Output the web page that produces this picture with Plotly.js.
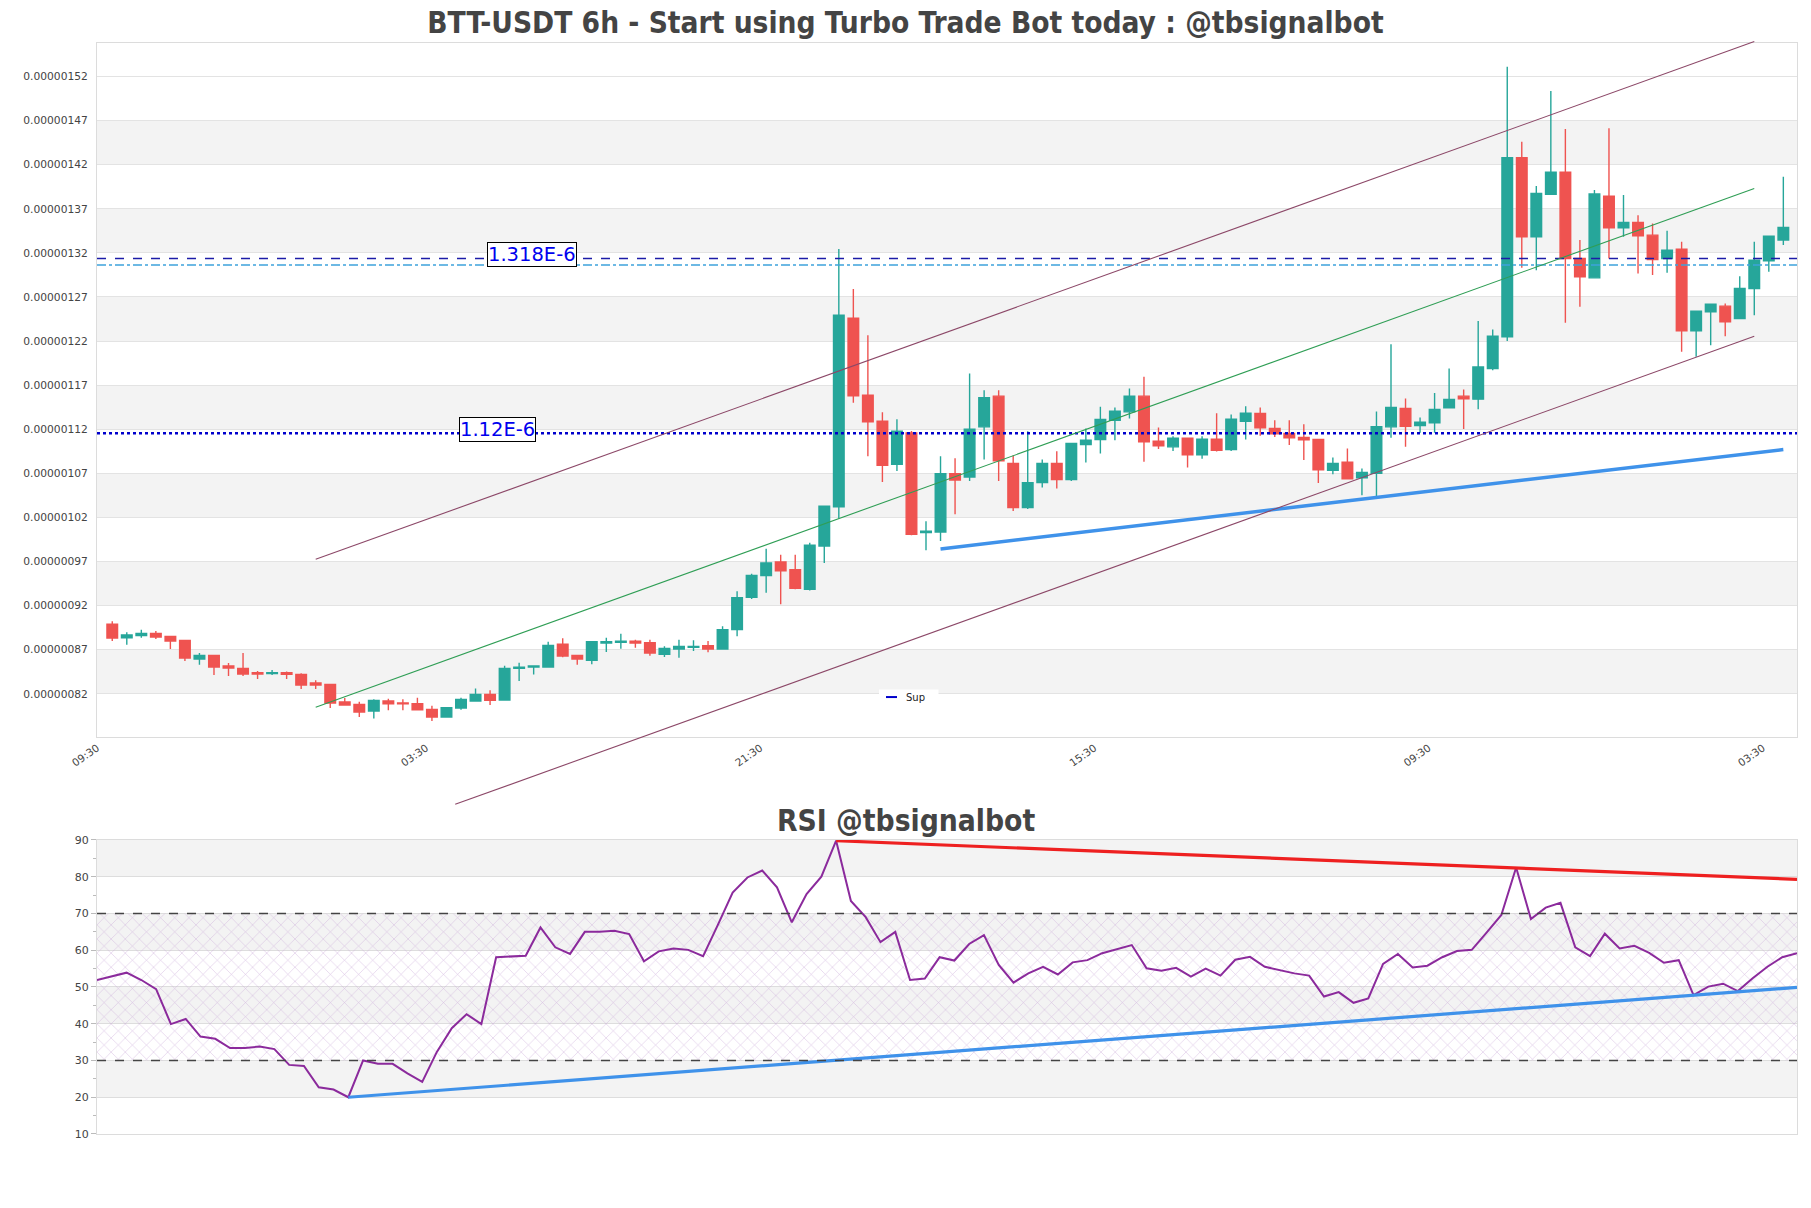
<!DOCTYPE html>
<html><head><meta charset="utf-8">
<script src="https://cdn.plot.ly/plotly-3.0.1.min.js"></script>
<style>body{margin:0;background:#fff}</style>
</head><body>
<div id="chart" style="width:1811px;height:1208px"></div>
<script>
// ---- data ----
const tickIdx = [-1.04, 21.6, 44.6, 67.6, 90.6, 113.6];
const tickText = ["09:30","03:30","21:30","15:30","09:30","03:30"];

const openP = [
0.8988e-6,0.8836e-6,0.8859e-6,0.8885e-6,0.8851e-6,0.8806e-6,0.8594e-6,0.8636e-6,0.8515e-6,0.8488e-6,
0.8439e-6,0.8428e-6,0.8439e-6,0.8420e-6,0.8322e-6,0.8307e-6,0.8106e-6,0.8080e-6,0.8004e-6,0.8118e-6,
0.8095e-6,0.8087e-6,0.8023e-6,0.7936e-6,0.8038e-6,0.8118e-6,0.8193e-6,0.8129e-6,0.8488e-6,0.8504e-6,
0.8504e-6,0.8761e-6,0.8636e-6,0.8579e-6,0.8776e-6,0.8783e-6,0.8795e-6,0.8780e-6,0.8647e-6,0.8708e-6,
0.8727e-6,0.8746e-6,0.8708e-6,0.8927e-6,0.9293e-6,0.9541e-6,0.9695e-6,0.9607e-6,0.9384e-6,0.9876e-6,
1.0319e-6,1.2460e-6,1.1586e-6,1.1291e-6,1.0803e-6,1.1159e-6,1.0028e-6,1.0035e-6,1.0697e-6,1.0659e-6,
1.1227e-6,1.1575e-6,1.0811e-6,1.0311e-6,1.0595e-6,1.0811e-6,1.0629e-6,1.1026e-6,1.1083e-6,1.1302e-6,
1.1397e-6,1.1575e-6,1.1064e-6,1.1000e-6,1.1098e-6,1.0909e-6,1.1087e-6,1.0969e-6,1.1291e-6,1.1378e-6,
1.1208e-6,1.1151e-6,1.1106e-6,1.1083e-6,1.0735e-6,1.0826e-6,1.0648e-6,1.0701e-6,1.1227e-6,1.1435e-6,
1.1242e-6,1.1272e-6,1.1442e-6,1.1575e-6,1.1541e-6,1.1889e-6,1.2248e-6,1.4279e-6,1.3383e-6,1.3863e-6,
1.4116e-6,1.3137e-6,1.2917e-6,1.3844e-6,1.3485e-6,1.3545e-6,1.3401e-6,1.3137e-6,1.3243e-6,1.2316e-6,
1.2532e-6,1.2596e-6,1.2456e-6,1.2796e-6,1.3110e-6,1.3345e-6];
const highP = [
0.9022e-6,0.8897e-6,0.8927e-6,0.8912e-6,0.8851e-6,0.8806e-6,0.8662e-6,0.8636e-6,0.8549e-6,0.8662e-6,
0.8458e-6,0.8469e-6,0.8454e-6,0.8432e-6,0.8352e-6,0.8307e-6,0.8152e-6,0.8110e-6,0.8137e-6,0.8144e-6,
0.8137e-6,0.8155e-6,0.8065e-6,0.8042e-6,0.8155e-6,0.8261e-6,0.8239e-6,0.8518e-6,0.8553e-6,0.8515e-6,
0.8791e-6,0.8829e-6,0.8636e-6,0.8791e-6,0.8836e-6,0.8882e-6,0.8814e-6,0.8814e-6,0.8738e-6,0.8814e-6,
0.8806e-6,0.8798e-6,0.8965e-6,0.9362e-6,0.9560e-6,0.9846e-6,0.9777e-6,0.9777e-6,0.9914e-6,1.0334e-6,
1.3243e-6,1.2789e-6,1.2267e-6,1.1393e-6,1.1314e-6,1.1181e-6,1.0156e-6,1.0894e-6,1.0871e-6,1.1832e-6,
1.1643e-6,1.1643e-6,1.0901e-6,1.1177e-6,1.0856e-6,1.0951e-6,1.1045e-6,1.1208e-6,1.1454e-6,1.1446e-6,
1.1662e-6,1.1794e-6,1.1219e-6,1.1121e-6,1.1098e-6,1.1121e-6,1.1382e-6,1.1367e-6,1.1461e-6,1.1446e-6,
1.1302e-6,1.1302e-6,1.1257e-6,1.1083e-6,1.0879e-6,1.0981e-6,1.0754e-6,1.1401e-6,1.2165e-6,1.1548e-6,
1.1333e-6,1.1612e-6,1.1889e-6,1.1650e-6,1.2426e-6,1.2331e-6,1.5311e-6,1.4460e-6,1.3957e-6,1.5035e-6,
1.4604e-6,1.3345e-6,1.3912e-6,1.4612e-6,1.3855e-6,1.3628e-6,1.3534e-6,1.3451e-6,1.3326e-6,1.2539e-6,
1.2626e-6,1.2626e-6,1.2936e-6,1.3326e-6,1.3390e-6,1.4063e-6];
const lowP = [
0.8798e-6,0.8757e-6,0.8836e-6,0.8821e-6,0.8708e-6,0.8572e-6,0.8530e-6,0.8413e-6,0.8401e-6,0.8401e-6,
0.8367e-6,0.8413e-6,0.8367e-6,0.8254e-6,0.8254e-6,0.8038e-6,0.8065e-6,0.7936e-6,0.7921e-6,0.8012e-6,
0.8012e-6,0.8019e-6,0.7891e-6,0.7936e-6,0.8019e-6,0.8118e-6,0.8072e-6,0.8129e-6,0.8345e-6,0.8420e-6,
0.8504e-6,0.8613e-6,0.8530e-6,0.8534e-6,0.8674e-6,0.8711e-6,0.8723e-6,0.8632e-6,0.8617e-6,0.8609e-6,
0.8685e-6,0.8670e-6,0.8700e-6,0.8851e-6,0.9275e-6,0.9345e-6,0.9214e-6,0.9384e-6,0.9372e-6,0.9683e-6,
1.0187e-6,1.1499e-6,1.0894e-6,1.0603e-6,1.0727e-6,0.9997e-6,0.9827e-6,0.9933e-6,1.0236e-6,1.0614e-6,
1.0856e-6,1.0614e-6,1.0274e-6,1.0296e-6,1.0538e-6,1.0527e-6,1.0614e-6,1.0822e-6,1.0924e-6,1.1075e-6,
1.1321e-6,1.0830e-6,1.0977e-6,1.0954e-6,1.0765e-6,1.0864e-6,1.0947e-6,1.0954e-6,1.1083e-6,1.1125e-6,
1.1113e-6,1.1022e-6,1.0852e-6,1.0591e-6,1.0690e-6,1.0637e-6,1.0451e-6,1.0440e-6,1.1102e-6,1.1000e-6,
1.1159e-6,1.1159e-6,1.1442e-6,1.1204e-6,1.1427e-6,1.1870e-6,1.2202e-6,1.3031e-6,1.3004e-6,1.3863e-6,
1.2407e-6,1.2588e-6,1.2917e-6,1.3137e-6,1.3383e-6,1.2967e-6,1.2948e-6,1.2974e-6,1.2078e-6,1.2021e-6,
1.2153e-6,1.2255e-6,1.2456e-6,1.2494e-6,1.2985e-6,1.3288e-6];
const closeP = [
0.8833e-6,0.8866e-6,0.8885e-6,0.8844e-6,0.8798e-6,0.8606e-6,0.8636e-6,0.8503e-6,0.8492e-6,0.8424e-6,
0.8424e-6,0.8439e-6,0.8420e-6,0.8299e-6,0.8299e-6,0.8095e-6,0.8072e-6,0.7993e-6,0.8125e-6,0.8087e-6,
0.8087e-6,0.8019e-6,0.7936e-6,0.8042e-6,0.8137e-6,0.8193e-6,0.8125e-6,0.8488e-6,0.8500e-6,0.8515e-6,
0.8749e-6,0.8628e-6,0.8594e-6,0.8791e-6,0.8791e-6,0.8795e-6,0.8776e-6,0.8662e-6,0.8715e-6,0.8738e-6,
0.8738e-6,0.8708e-6,0.8927e-6,0.9290e-6,0.9541e-6,0.9684e-6,0.9594e-6,0.9397e-6,0.9884e-6,1.0327e-6,
1.2494e-6,1.1578e-6,1.1283e-6,1.0792e-6,1.1178e-6,1.0009e-6,1.0043e-6,1.0697e-6,1.0625e-6,1.1200e-6,
1.1559e-6,1.0841e-6,1.0311e-6,1.0595e-6,1.0811e-6,1.0629e-6,1.1038e-6,1.1075e-6,1.1310e-6,1.1404e-6,
1.1575e-6,1.1057e-6,1.1011e-6,1.1098e-6,1.0909e-6,1.1087e-6,1.0962e-6,1.1314e-6,1.1382e-6,1.1215e-6,
1.1147e-6,1.1102e-6,1.1079e-6,1.0739e-6,1.0811e-6,1.0637e-6,1.0709e-6,1.1230e-6,1.1446e-6,1.1234e-6,
1.1280e-6,1.1423e-6,1.1537e-6,1.1544e-6,1.1907e-6,1.2255e-6,1.4279e-6,1.3383e-6,1.3874e-6,1.4116e-6,
1.3137e-6,1.2929e-6,1.3867e-6,1.3485e-6,1.3545e-6,1.3394e-6,1.3125e-6,1.3231e-6,1.2316e-6,1.2539e-6,
1.2619e-6,1.2418e-6,1.2796e-6,1.3118e-6,1.3390e-6,1.3488e-6];

const rsi = [
51.9,52.8,53.9,51.9,49.4,39.9,41.3,36.5,35.9,33.4,
33.4,33.8,33.1,28.8,28.5,22.7,22.1,20.0,30.0,29.1,
29.1,26.5,24.2,32.4,38.8,42.6,39.9,58.1,58.3,58.5,
66.2,60.8,59.0,65.0,65.0,65.3,64.4,57.0,59.7,60.5,
60.1,58.4,66.9,75.7,79.8,81.7,77.1,67.6,75.3,80.0,
89.8,73.4,69.0,62.2,65.0,51.9,52.3,58.1,57.2,61.7,
64.1,56.0,51.2,53.7,55.5,53.4,56.7,57.3,59.2,60.2,
61.4,55.1,54.4,55.2,52.8,55.0,53.1,57.4,58.2,55.5,
54.5,53.7,53.1,47.4,48.6,45.7,46.9,56.3,59.0,55.3,
55.8,58.1,59.8,60.1,64.8,69.6,82.5,68.5,71.6,72.9,
60.8,58.4,64.5,60.5,61.2,59.3,56.6,57.3,47.8,50.1,
50.9,48.9,52.4,55.5,58.1,59.2];

// trend / channel lines (candle index, price)
const channelX = [14, 113];
const upperChannelY = [0.9725e-6, 1.5596e-6];
const midChannelY = [0.8047e-6, 1.3931e-6];
const lowerChannelX = [23.6, 113];
const lowerChannelY = [0.6946e-6, 1.2254e-6];
const supTrendX = [57, 115];
const supTrendY = [0.9843e-6, 1.0970e-6];
// horizontal levels
const resistLevel = 1.3137e-6;
const resistLevel2 = 1.3062e-6;
const supLevel = 1.1155e-6;
const levelLabelX = [28.9, 26.5];
const levelLabelY = [1.318e-6, 1.12e-6];
const levelLabelText = ["1.318E-6", "1.12E-6"];
// RSI trend lines
const rsiResX = [50, 115], rsiResY = [89.8, 79.3];
const rsiSupX = [17, 115], rsiSupY = [20.0, 49.9];
const rsiZone = [30, 70];
const legendName = "Sup";

// ---- layout constants ----
const xRange = [-1.05, 115.94];
const yRange = [0.771e-6, 1.558e-6];
const yDomain = [0.3639, 1];
const y2Domain = [0, 0.2695];
const idx = openP.map((_, i) => i);
const rsiIdx = rsi.map((_, i) => i);

function yPaper(v) {
  return yDomain[0] + (v - yRange[0]) / (yRange[1] - yRange[0]) * (yDomain[1] - yDomain[0]);
}

const FONT = 'DejaVu Sans';
const TFONT = 'DejaVu Sans Condensed, DejaVu Sans';

const traces = [
  {
    type: 'candlestick', x: idx, open: openP, high: highP, low: lowP, close: closeP,
    xaxis: 'x', yaxis: 'y', showlegend: false, whiskerwidth: 0,
    increasing: {line: {color: '#26a69a', width: 1.4}, fillcolor: '#26a69a'},
    decreasing: {line: {color: '#ef5350', width: 1.4}, fillcolor: '#ef5350'},
    hoverinfo: 'skip'
  },
  {
    type: 'scatter', mode: 'lines', x: supTrendX, y: supTrendY, xaxis: 'x', yaxis: 'y',
    line: {color: '#3f92ea', width: 3.5}, showlegend: false, hoverinfo: 'skip'
  },
  {
    type: 'scatter', mode: 'lines', name: legendName, x: xRange, y: [supLevel, supLevel],
    xaxis: 'x', yaxis: 'y', line: {color: '#0000cc', width: 2.5, dash: 'dot'},
    showlegend: false, hoverinfo: 'skip'
  },
  {
    type: 'scatter', mode: 'lines', x: [0, rsi.length - 1, rsi.length - 1, 0, 0],
    y: [rsiZone[0], rsiZone[0], rsiZone[1], rsiZone[1], rsiZone[0]],
    xaxis: 'x2', yaxis: 'y2', fill: 'toself', line: {width: 0},
    fillcolor: 'rgba(0,0,0,0)',
    fillpattern: {shape: 'x', fgcolor: 'rgba(200,165,215,0.75)', bgcolor: 'rgba(0,0,0,0)', size: 10, solidity: 0.1},
    showlegend: false, hoverinfo: 'skip'
  },
  {
    type: 'scatter', mode: 'lines', x: rsiIdx, y: rsi, xaxis: 'x2', yaxis: 'y2',
    line: {color: '#8b2a9c', width: 2}, showlegend: false, hoverinfo: 'skip'
  },
  {
    type: 'scatter', mode: 'lines', x: rsiResX, y: rsiResY, xaxis: 'x2', yaxis: 'y2',
    line: {color: '#ee2020', width: 3.2}, showlegend: false, hoverinfo: 'skip'
  },
  {
    type: 'scatter', mode: 'lines', x: rsiSupX, y: rsiSupY, xaxis: 'x2', yaxis: 'y2',
    line: {color: '#3f92ea', width: 3.2}, showlegend: false, hoverinfo: 'skip'
  }
];

const shapes = [];
// price bands
const bands = [[0.82e-6,0.87e-6],[0.92e-6,0.97e-6],[1.02e-6,1.07e-6],[1.12e-6,1.17e-6],[1.22e-6,1.27e-6],[1.32e-6,1.37e-6],[1.42e-6,1.47e-6]];
bands.forEach(b => shapes.push({type:'rect', xref:'x domain', yref:'y', x0:0, x1:1, y0:b[0], y1:b[1], fillcolor:'#f3f3f3', line:{width:0}, layer:'below'}));
// rsi bands
[[20,30],[40,50],[60,70],[80,90]].forEach(b => shapes.push({type:'rect', xref:'x2 domain', yref:'y2', x0:0, x1:1, y0:b[0], y1:b[1], fillcolor:'#f3f3f3', line:{width:0}, layer:'below'}));
// horizontal levels
shapes.push({type:'line', xref:'x domain', yref:'y', x0:0, x1:1, y0:resistLevel, y1:resistLevel, line:{color:'#1c1ca8', width:1.6, dash:'dash'}});
shapes.push({type:'line', xref:'x domain', yref:'y', x0:0, x1:1, y0:resistLevel2, y1:resistLevel2, line:{color:'#3ea2dc', width:1.6, dash:'dashdot'}});
// channel lines
shapes.push({type:'line', xref:'x', yref:'paper', x0:channelX[0], x1:channelX[1], y0:yPaper(upperChannelY[0]), y1:yPaper(upperChannelY[1]), line:{color:'#8c4868', width:1.1}});
shapes.push({type:'line', xref:'x', yref:'paper', x0:channelX[0], x1:channelX[1], y0:yPaper(midChannelY[0]), y1:yPaper(midChannelY[1]), line:{color:'#2f9e55', width:1.1}});
shapes.push({type:'line', xref:'x', yref:'paper', x0:lowerChannelX[0], x1:lowerChannelX[1], y0:yPaper(lowerChannelY[0]), y1:yPaper(lowerChannelY[1]), line:{color:'#8c4868', width:1.1}});
// rsi 30/70
rsiZone.forEach(v => shapes.push({type:'line', xref:'x2 domain', yref:'y2', x0:0, x1:1, y0:v, y1:v, line:{color:'#444', width:1.3, dash:'dash'}}));
// compact legend key for "Sup"
shapes.push({type:'rect', xref:'paper', yref:'paper', x0:0.4600, x1:0.4950, y0:0.3935, y1:0.4075, fillcolor:'white', line:{width:0}});
shapes.push({type:'line', xref:'paper', yref:'paper', x0:0.4641, x1:0.4706, y0:0.4005, y1:0.4005, line:{color:'#0000cc', width:2}});

const annotations = levelLabelText.map((t, i) => ({
  x: levelLabelX[i], y: levelLabelY[i], xref:'x', yref:'y', text: t, showarrow:false,
  font:{family:FONT, size:19.5, color:'#0000ee'}, bgcolor:'white', bordercolor:'#000', borderwidth:1, borderpad:0
}));
annotations.push({
  x: 0.4745, y: 0.4005, xref:'paper', yref:'paper', text: legendName, showarrow:false,
  xanchor:'left', yanchor:'middle', font:{family:FONT, size:10, color:'#222'}
});
annotations.push({
  x: 0.4756, y: 0.2878, xref:'paper', yref:'paper', text:'<b>RSI @tbsignalbot</b>', showarrow:false,
  xanchor:'center', yanchor:'middle', font:{family:TFONT, size:29.7, color:'#444'}
});

const axisLine = '#dcdcdc';
const layout = {
  width: 1811, height: 1208,
  margin: {l: 97, r: 14, t: 43, b: 74},
  paper_bgcolor: 'white', plot_bgcolor: 'white',
  font: {family: FONT, size: 10, color: '#444'},
  title: {text: '<b>BTT-USDT 6h - Start using Turbo Trade Bot today : @tbsignalbot</b>',
          font: {family: TFONT, size: 29.6, color: '#444'}, x: 0.5, xanchor: 'center',
          y: 1 - 23/1208, yanchor: 'middle', yref: 'container'},
  boxgap: 0.27, boxgroupgap: 0,
  showlegend: false,
  xaxis: {domain: [0, 1], range: xRange, anchor: 'y', showgrid: false, zeroline: false,
          showline: true, mirror: true, linecolor: axisLine,
          tickmode: 'array', tickvals: tickIdx, ticktext: tickText, tickangle: -35,
          tickfont: {size: 10.5, color: '#444'}, rangeslider: {visible: false}, fixedrange: true},
  yaxis: {domain: yDomain, range: yRange, anchor: 'x', showgrid: true, gridcolor: '#e3e3e3',
          zeroline: false, showline: true, mirror: true, linecolor: axisLine,
          tick0: 0.77e-6, dtick: 0.05e-6, tickformat: '.8f', ticklabelstandoff: 6,
          tickfont: {size: 10.7, color: '#444'}},
  xaxis2: {domain: [0, 1], range: [0, rsi.length - 1], anchor: 'y2', showgrid: false, zeroline: false,
           showline: true, mirror: true, linecolor: axisLine, showticklabels: false, ticks: ''},
  yaxis2: {domain: y2Domain, range: [10, 90], anchor: 'x2', tick0: 10, dtick: 10,
           showgrid: true, gridcolor: '#dddddd', zeroline: false, showline: true, mirror: true,
           linecolor: axisLine, ticks: 'outside', ticklen: 5, tickcolor: '#bbb',
           minor: {ticks: 'outside', ticklen: 3, dtick: 5, tickcolor: '#bbb', showgrid: false},
           tickfont: {size: 11, color: '#444'}},
  shapes: shapes,
  annotations: annotations
};

Plotly.newPlot('chart', traces, layout, {displayModeBar: false, staticPlot: true});
</script>
</body></html>
